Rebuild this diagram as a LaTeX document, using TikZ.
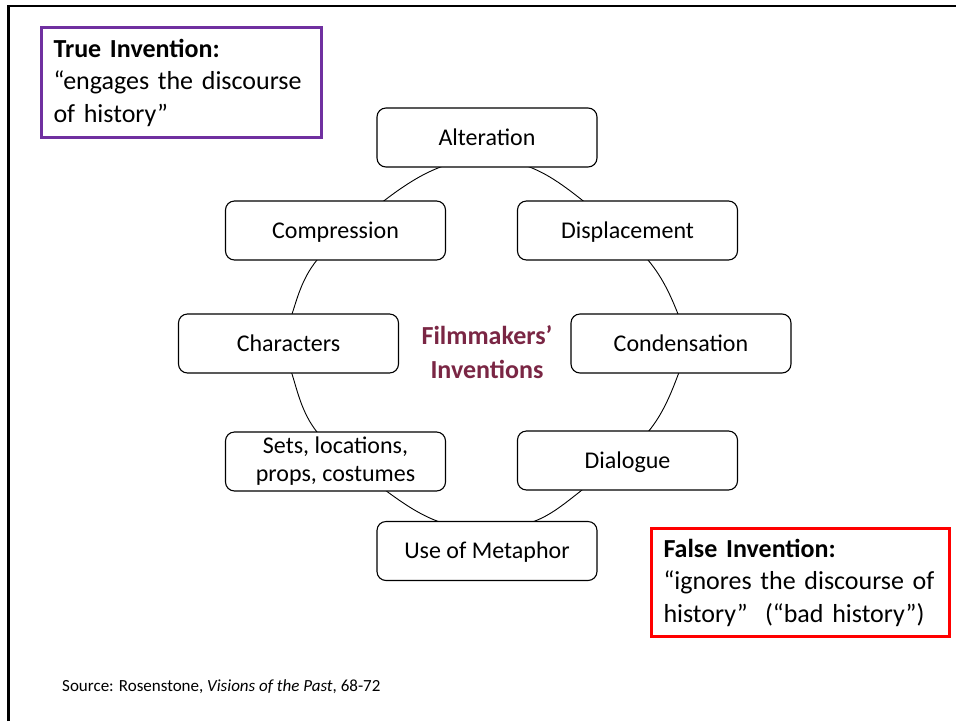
\documentclass[tikz,border=0pt]{standalone}
\usepackage{fontspec}
\setmainfont{Carlito}
\definecolor{titlecol}{RGB}{122,38,68}
\definecolor{truecol}{RGB}{112,48,160}
\definecolor{falsecol}{RGB}{255,0,0}
\begin{document}
\begin{tikzpicture}[x=1pt,y=-1pt,
  itembox/.style={draw=black, line width=1.1pt, rounded corners=9pt, fill=white,
    minimum width=220pt, minimum height=59pt, inner sep=0pt, align=center,
    font=\fontsize{24}{28}\selectfont},
  oneline/.style={text height=18.5pt, text depth=3.5pt},
  notebox/.style={line width=3pt, inner xsep=12pt, inner ysep=0pt, align=left,
    font=\fontsize{26}{32.5}\selectfont},
  curvestyle/.style={draw=black, line width=0.9pt}]
\useasboundingbox (0,0) rectangle (956,721);
\fill[white] (0,0) rectangle (956,721);
% slide frame
\draw[line width=2.5pt] (8.5,721) -- (8.5,6) -- (956,6);
% cycle curve
\draw[curvestyle] plot[smooth cycle, tension=0.6] coordinates {
 (485,160) (532,168) (582,200) (648,260) (678,314) (682,344) (678,375)
 (648,432) (582,490) (535,521) (485,528) (437,521) (385,490) (317,432)
 (292,374) (288,344) (292,314) (317,260) (385,200) (438,168)};
% items
\node[itembox, oneline] (alt)  at (487,137.5) {Alteration};
\node[itembox, oneline] (comp) at (335.5,230.5) {Compression};
\node[itembox, oneline] (disp) at (627.5,230.5) {Displacement};
\node[itembox, oneline] (char) at (288.5,343.5) {Characters};
\node[itembox, oneline] (cond) at (681,343.5) {Condensation};
\node[itembox] (sets) at (335.5,461.5) {Sets, locations,\\props, costumes};
\node[itembox, oneline] (dial) at (627.5,460.5) {Dialogue};
\node[itembox, oneline] (meta) at (487,551) {Use of Metaphor};
% centre title
\node[text=titlecol, align=center, font=\fontsize{26}{34}\selectfont\bfseries] (title) at (487,352) {Filmmakers’\\Inventions};
% notes
\node[notebox, draw=truecol, text width=256pt, minimum height=110pt, anchor=north west] (true) at (40,26)
  {\textbf{True Invention:}\\“engages the discourse\\of history”};
\node[notebox, draw=falsecol, text width=274pt, minimum height=108pt, anchor=north west] (false) at (650,527)
  {\textbf{False Invention:}\\“ignores the discourse of\\history”\ \ (“bad history”)};
% source
\node[anchor=base west, inner sep=0pt, font=\fontsize{17}{21}\selectfont] (src) at (62,691)
  {Source: Rosenstone, \textit{Visions of the Past}, 68-72};
\end{tikzpicture}
\end{document}
